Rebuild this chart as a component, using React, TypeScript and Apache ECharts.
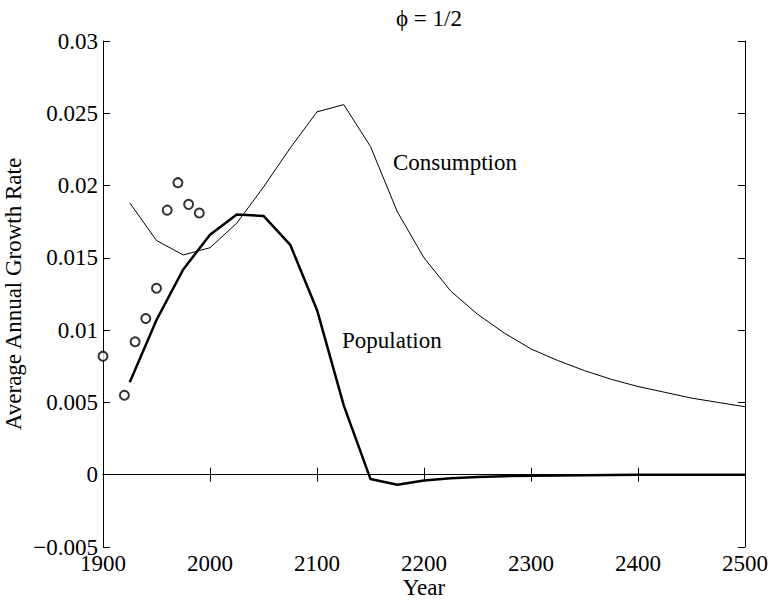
import React, { useEffect, useRef } from "react";
import * as echarts from "echarts";

const years = [1925, 1950, 1975, 2000, 2025, 2050, 2075, 2100, 2125, 2150, 2175, 2200, 2225, 2250, 2275, 2300, 2325, 2350, 2375, 2400, 2425, 2450, 2475, 2500];
const consumption = [0.0188, 0.0162, 0.0152, 0.0157, 0.0174, 0.0199, 0.0226, 0.0251, 0.0256, 0.0227, 0.0182, 0.0150, 0.0127, 0.0111, 0.0098, 0.0087, 0.0079, 0.0072, 0.0066, 0.0061, 0.0057, 0.0053, 0.0050, 0.0047];
const population = [0.0064, 0.0107, 0.0142, 0.0166, 0.0180, 0.0179, 0.0159, 0.0114, 0.0048, -0.0003, -0.0007, -0.0004, -0.00025, -0.00015, -0.0001, -0.00007, -0.00005, -0.00003, -0.00002, -0.00001, -0.00001, 0, 0, 0];
const obsYears = [1900, 1920, 1930, 1940, 1950, 1960, 1970, 1980, 1990];
const observed = [0.0082, 0.0055, 0.0092, 0.0108, 0.0129, 0.0183, 0.0202, 0.0187, 0.0181];

const FONT = "'Liberation Serif', 'Times New Roman', serif";
const FS = 23;

export default function App() {
  const ref = useRef<HTMLDivElement>(null);
  useEffect(() => {
    if (!ref.current) return;
    const chart = echarts.init(ref.current, undefined, { renderer: "svg" });
    const axisLine = { show: true, lineStyle: { color: "#000", width: 1 } };
    const tick = { show: true, inside: true, length: 7, lineStyle: { color: "#000", width: 1 } };
    const yFmt = (v: number) => {
      const s = String(Number(v.toFixed(4)));
      return s.replace("-", "\u2212");
    };
    const xFmt = (v: number) => String(Math.round(v));
    chart.setOption({
      animation: false,
      backgroundColor: "#fff",
      title: {
        text: "\u03d5 = 1/2",
        left: 424,
        top: 2,
        textAlign: "center",
        textStyle: { fontFamily: FONT, fontSize: FS, fontWeight: "normal", color: "#000" },
      },
      grid: { left: 103, right: 25, top: 41, bottom: 53, containLabel: false, outerBoundsMode: "none" },
      xAxis: [
        {
          type: "value",
          min: 1900,
          max: 2500,
          interval: 100,
          position: "bottom",
          name: "Year",
          nameLocation: "middle",
          nameGap: 28,
          nameMoveOverlap: false,
          nameTextStyle: { fontFamily: FONT, fontSize: FS, color: "#000", lineHeight: 24 },
          axisLine,
          axisTick: tick,
          splitLine: { show: false },
          axisLabel: { fontFamily: FONT, fontSize: FS, color: "#000", margin: 5, formatter: xFmt },
        },
        {
          type: "value",
          min: 1900,
          max: 2500,
          interval: 100,
          position: "top",
          axisLine,
          axisTick: tick,
          splitLine: { show: false },
          axisLabel: { show: false },
        },
      ],
      yAxis: [
        {
          type: "value",
          min: -0.005,
          max: 0.03,
          interval: 0.005,
          position: "left",
          name: "Average Annual Growth Rate",
          nameLocation: "middle",
          nameGap: 78,
          nameMoveOverlap: false,
          nameTextStyle: { fontFamily: FONT, fontSize: FS, color: "#000", lineHeight: 24 },
          axisLine,
          axisTick: tick,
          splitLine: { show: false },
          axisLabel: { fontFamily: FONT, fontSize: FS, color: "#000", margin: 5, formatter: yFmt },
        },
        {
          type: "value",
          min: -0.005,
          max: 0.03,
          interval: 0.005,
          position: "right",
          axisLine,
          axisTick: tick,
          splitLine: { show: false },
          axisLabel: { show: false },
        },
      ],
      graphic: [
        {
          type: "text",
          left: 393,
          top: 151,
          style: { text: "Consumption", fontFamily: FONT, fontSize: FS, fill: "#000" },
        },
        {
          type: "text",
          left: 342,
          top: 329,
          style: { text: "Population", fontFamily: FONT, fontSize: FS, fill: "#000" },
        },
      ],
      series: [
        {
          type: "line",
          data: years.map((y, i) => [y, consumption[i]]),
          showSymbol: false,
          lineStyle: { color: "#000", width: 1 },
          silent: true,
        },
        {
          type: "line",
          data: years.map((y, i) => [y, population[i]]),
          showSymbol: false,
          lineStyle: { color: "#000", width: 2.5 },
          silent: true,
        },
        {
          type: "scatter",
          data: obsYears.map((y, i) => [y, observed[i]]),
          symbol: "emptyCircle",
          symbolSize: 9,
          itemStyle: { color: "#000", borderColor: "#000", borderWidth: 1 },
        },
      ],
    });
    return () => chart.dispose();
  }, []);
  return (
    <div
      ref={ref}
      style={{ position: "fixed", left: 0, top: 0, width: 770, height: 600, background: "#fff" }}
    />
  );
}
